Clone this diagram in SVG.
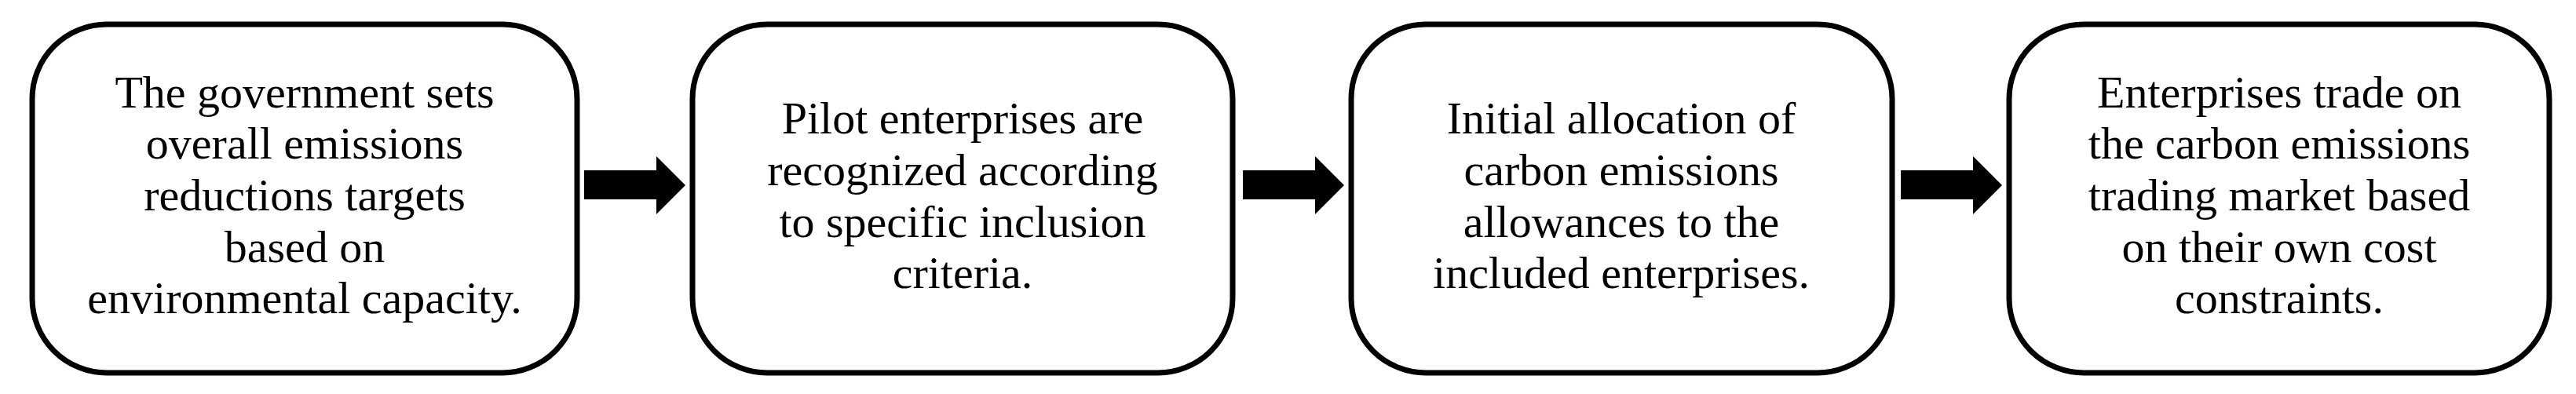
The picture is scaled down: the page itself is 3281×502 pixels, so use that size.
<svg xmlns="http://www.w3.org/2000/svg" width="3281" height="502" viewBox="0 0 3281 502">
<style>
.box{fill:#fff;stroke:#000;stroke-width:7}
.t{font-family:"Liberation Serif",serif;font-size:58px;text-anchor:middle;fill:#000}
.ar{fill:#000}
</style>
<rect width="3281" height="502" fill="#fff"/>
<g id="node1"><rect class="box" x="41" y="31" width="694" height="444" rx="95"/>
<text class="t"><tspan x="388" y="137">The government sets</tspan><tspan x="388" y="202">overall emissions</tspan><tspan x="388" y="268">reductions targets</tspan><tspan x="388" y="334">based on</tspan><tspan x="388" y="399">environmental capacity.</tspan></text></g>
<g id="node2"><rect class="box" x="882" y="31" width="688" height="444" rx="95"/>
<text class="t"><tspan x="1226" y="170">Pilot enterprises are</tspan><tspan x="1226" y="236">recognized according</tspan><tspan x="1226" y="302">to specific inclusion</tspan><tspan x="1226" y="367">criteria.</tspan></text></g>
<g id="node3"><rect class="box" x="1721" y="31" width="689" height="444" rx="95"/>
<text class="t"><tspan x="2065" y="170">Initial allocation of</tspan><tspan x="2065" y="236">carbon emissions</tspan><tspan x="2065" y="302">allowances  to the</tspan><tspan x="2065" y="367">included enterprises.</tspan></text></g>
<g id="node4"><rect class="box" x="2559" y="31" width="688" height="444" rx="95"/>
<text class="t"><tspan x="2903" y="137">Enterprises trade on</tspan><tspan x="2903" y="202">the carbon emissions</tspan><tspan x="2903" y="268">trading market based</tspan><tspan x="2903" y="334">on their own cost</tspan><tspan x="2903" y="399">constraints.</tspan></text></g>
<g id="connectors">
<polygon class="ar" points="744,217 836,217 836,199 873,236 836,273 836,254 744,254"/>
<polygon class="ar" points="1583,217 1675,217 1675,199 1712,236 1675,273 1675,254 1583,254"/>
<polygon class="ar" points="2421,217 2513,217 2513,199 2550,236 2513,273 2513,254 2421,254"/>
</g>
</svg>
